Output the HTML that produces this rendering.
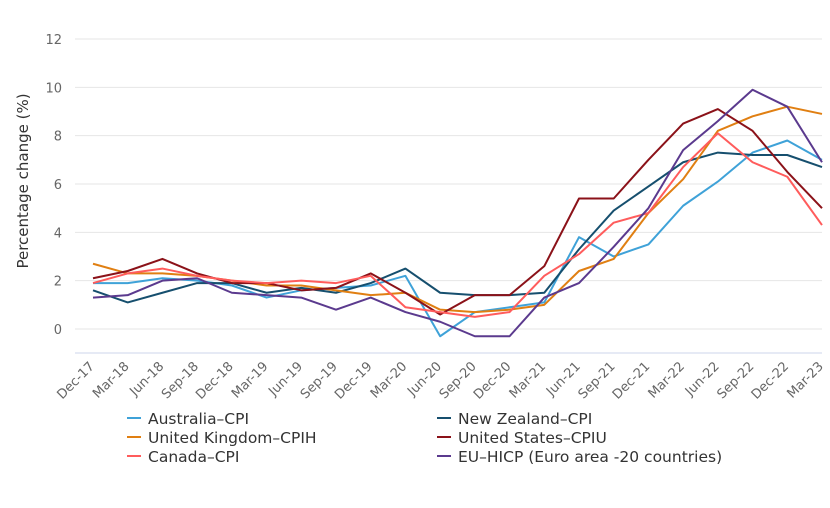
<!DOCTYPE html>
<html><head><meta charset="utf-8"><style>
body{margin:0;background:#fff;font-family:"DejaVu Sans",sans-serif}
svg text{font-family:"DejaVu Sans",sans-serif}
</style></head><body>
<svg id="chart" width="830" height="504"></svg>
<script>
const categories=["Dec-17","Mar-18","Jun-18","Sep-18","Dec-18","Mar-19","Jun-19","Sep-19","Dec-19","Mar-20","Jun-20","Sep-20","Dec-20","Mar-21","Jun-21","Sep-21","Dec-21","Mar-22","Jun-22","Sep-22","Dec-22","Mar-23"];
const yTicks=[0,2,4,6,8,10,12];
const australia=[1.9,1.9,2.1,2.0,1.8,1.3,1.6,1.7,1.8,2.2,-0.3,0.7,0.9,1.1,3.8,3.0,3.5,5.1,6.1,7.3,7.8,7.0];
const newZealand=[1.6,1.1,1.5,1.9,1.9,1.5,1.7,1.5,1.9,2.5,1.5,1.4,1.4,1.5,3.3,4.9,5.9,6.9,7.3,7.2,7.2,6.7];
const unitedKingdom=[2.7,2.3,2.3,2.2,2.0,1.8,1.8,1.6,1.4,1.5,0.8,0.7,0.8,1.0,2.4,2.9,4.8,6.2,8.2,8.8,9.2,8.9];
const unitedStates=[2.1,2.4,2.9,2.3,1.9,1.9,1.6,1.7,2.3,1.5,0.6,1.4,1.4,2.6,5.4,5.4,7.0,8.5,9.1,8.2,6.5,5.0];
const canada=[1.9,2.3,2.5,2.2,2.0,1.9,2.0,1.9,2.2,0.9,0.7,0.5,0.7,2.2,3.1,4.4,4.8,6.7,8.1,6.9,6.3,4.3];
const euHicp=[1.3,1.4,2.0,2.1,1.5,1.4,1.3,0.8,1.3,0.7,0.3,-0.3,-0.3,1.3,1.9,3.4,5.0,7.4,8.6,9.9,9.2,6.9];
const seriesNames=["Australia–CPI","New Zealand–CPI","United Kingdom–CPIH","United States–CPIU","Canada–CPI","EU–HICP (Euro area -20 countries)"];

const NS="http://www.w3.org/2000/svg";
const svg=document.getElementById('chart');
const x=i=>93+i*(822-93)/(categories.length-1);
const y=v=>329-v*(290/12);
function el(t,a,p){const e=document.createElementNS(NS,t);for(const k in a)e.setAttribute(k,a[k]);(p||svg).appendChild(e);return e;}
yTicks.forEach(v=>{
  const g=el('line',{x1:75,x2:822,y1:y(v),y2:y(v),stroke:'#e6e6e6','stroke-width':1});
  
  
  const t=el('text',{x:62,y:y(v)+5,'text-anchor':'end','font-size':13,fill:'#666'});
  t.textContent=v;
  
  
});
const ax=el('line',{x1:75,x2:822,y1:353,y2:353,stroke:'#ccd6eb'});


categories.forEach((c,i)=>{
  const lx=x(i)+2, ly=367;
  const t=el('text',{x:lx,y:ly,'text-anchor':'end','font-size':13,fill:'#666',transform:`rotate(-45 ${lx} ${ly})`});
  t.textContent=c;
  
  
});
const yt=el('text',{x:28,y:181,'text-anchor':'middle','font-size':15,fill:'#333',transform:'rotate(-90 28 181)'});
yt.textContent='Percentage change (%)';


const all=[australia,newZealand,unitedKingdom,unitedStates,canada,euHicp];
const colors=['#3fa2d8','#164f6e','#e07f12','#8b1219','#ff5c5c','#5b3a8e'];
all.forEach((s,k)=>{
  const p=el('polyline',{points:s.map((v,i)=>x(i)+','+y(v)).join(' '),fill:'none',stroke:colors[k],'stroke-width':2,'stroke-linejoin':'round'});
  
  
});
seriesNames.forEach((n,k)=>{
  const cy=418+Math.floor(k/2)*19;
  const g=el('g',{});
  
  
  const mx=k%2?437:127;
  el('line',{x1:mx,x2:mx+14,y1:cy,y2:cy,stroke:colors[k],'stroke-width':2},g);
  const t=el('text',{x:mx+21,y:cy+6,'font-size':15.5,fill:'#333'},g);
  t.textContent=n;
});
</script>
</body></html>
